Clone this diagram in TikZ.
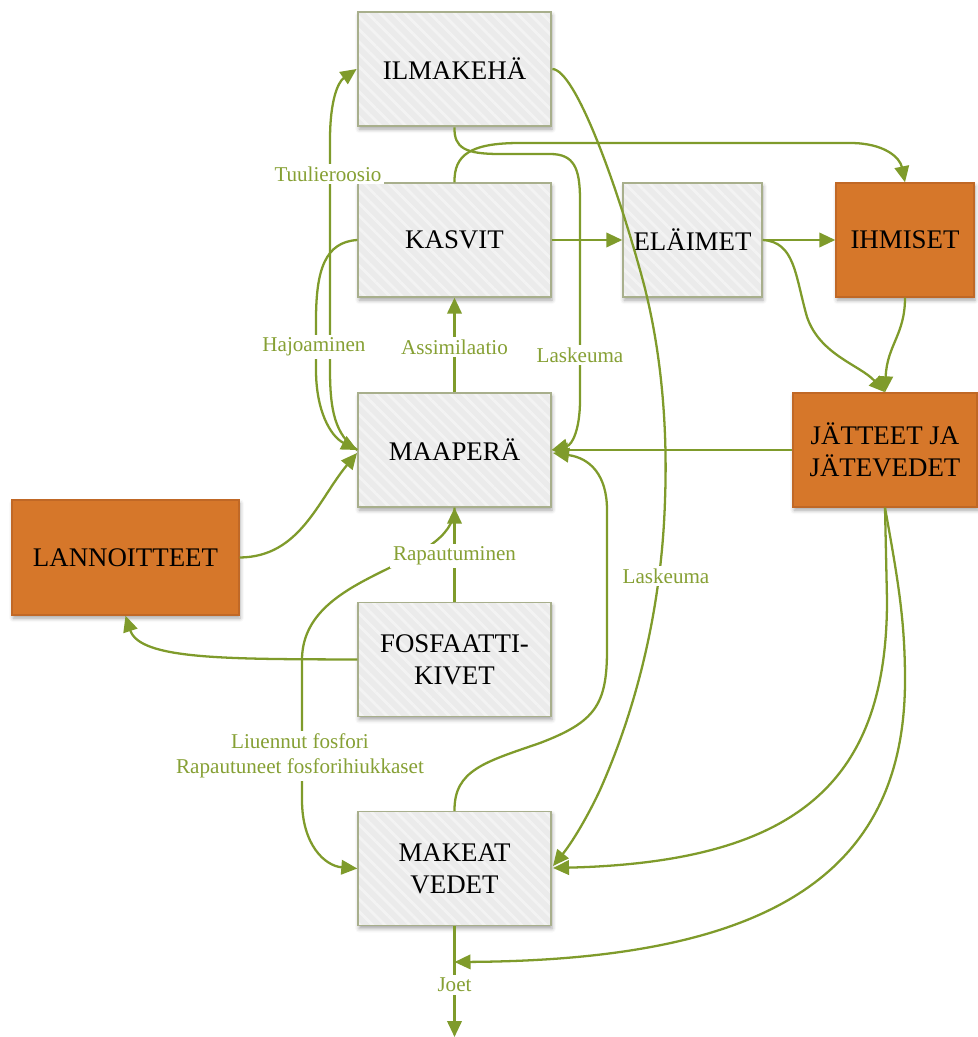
\documentclass[tikz,border=0pt]{standalone}
\usepackage{fontspec}
\setmainfont{Liberation Serif}
\usetikzlibrary{arrows.meta,shadows.blur,patterns.meta}

\definecolor{flowgreen}{HTML}{7F9B2B}
\definecolor{labgreen}{HTML}{86A034}
\definecolor{boxfill}{HTML}{EBEBEB}
\definecolor{boxstripe}{HTML}{F3F3F3}
\definecolor{boxline}{HTML}{A8AF8C}
\definecolor{orangefill}{HTML}{D6772A}
\definecolor{orangeline}{HTML}{C06826}

\tikzset{
  basebox/.style={rectangle, inner sep=0pt, align=center,
    font=\fontsize{15.3}{18.2}\selectfont, line width=0.8pt,
    blur shadow={shadow xshift=0.6pt, shadow yshift=-1.8pt,
      shadow blur radius=2.2pt, shadow opacity=35}},
  % grey compartments: plain fill first, faint stripes on top, border last
  gbox/.style={basebox, draw=boxline, preaction={fill=boxfill},
    pattern={Lines[angle=-45,distance=5pt,line width=1.6pt]},
    pattern color=boxstripe},
  obox/.style={basebox, draw=orangeline, fill=orangefill},
  flow/.style={draw=flowgreen, line width=1.3pt,
    -{Triangle[length=0.32cm,width=0.29cm]}},
  lab/.style={fill=white, inner sep=1.5pt, text=labgreen, align=center,
    font=\fontsize{12}{14.2}\selectfont}
}

\begin{document}
\begin{tikzpicture}[x=0.02cm, y=-0.02cm]
\useasboundingbox (0,0) rectangle (977,1037);

% compartments
\node[gbox, minimum width=3.86cm, minimum height=2.28cm] (ilma)    at (454.5,69)    {ILMAKEHÄ};
\node[gbox, minimum width=3.86cm, minimum height=2.28cm] (kasvit)  at (454.5,240)   {KASVIT};
\node[gbox, minimum width=2.78cm, minimum height=2.28cm] (elaimet) at (692.5,240)   {ELÄIMET};
\node[obox, minimum width=2.76cm, minimum height=2.28cm] (ihmiset) at (905,240)     {IHMISET};
\node[gbox, minimum width=3.86cm, minimum height=2.28cm] (maapera) at (454.5,450)   {MAAPERÄ};
\node[obox, minimum width=3.68cm, minimum height=2.28cm] (jatteet) at (885,450)     {JÄTTEET JA\\JÄTEVEDET};
\node[obox, minimum width=4.54cm, minimum height=2.30cm] (lannoit) at (125.5,557.5) {LANNOITTEET};
\node[gbox, minimum width=3.86cm, minimum height=2.28cm] (fosf)    at (454.5,659.5) {FOSFAATTI-\\KIVET};
\node[gbox, minimum width=3.86cm, minimum height=2.28cm] (makeat)  at (454.5,868.5) {MAKEAT\\VEDET};

\coordinate (joet) at (454.5,962);
\coordinate (outlet) at (454.5,1037);

% flows
\draw[flow] (kasvit.east) -- (elaimet.west);
\draw[flow] (elaimet.east) -- (ihmiset.west);
\draw[flow] (maapera.north) -- (kasvit.south);
\draw[flow] (fosf.north) -- (maapera.south);
\draw[flow] (jatteet.west) -- (maapera.east);
\draw[flow] (makeat.south) -- (outlet);

% wind erosion and decomposition
\draw[flow] (maapera.west) .. controls (335,435) and (330,410) .. (330,370)
  -- (330,140) .. controls (330,100) and (338,82) .. (ilma.west);
\draw[flow] (kasvit.west) .. controls (325,242) and (316,270) .. (316,320)
  -- (316,370) .. controls (316,410) and (330,436) .. (maapera.west);

% fertilisers
\draw[flow] (lannoit.east) .. controls (300,557) and (318,500) .. (357,453);
\draw[flow] (fosf.west) .. controls (230,659) and (140,660) .. (lannoit.south);

% plants to people
\draw[flow] (kasvit.north) .. controls (454,155) and (470,143) .. (520,143)
  -- (850,143) .. controls (885,143) and (900,158) .. (ihmiset.north);

% deposition from the atmosphere to the soil
\draw[flow] (ilma.south) .. controls (454,148) and (465,154) .. (500,154)
  -- (550,154) .. controls (574,154) and (580,168) .. (580,200)
  -- (580,400) .. controls (580,430) and (572,445) .. (maapera.east);

% deposition from the atmosphere to fresh waters
\draw[flow] (ilma.east) .. controls (575,70) and (615,180) .. (640,270)
  .. controls (660,340) and (668,420) .. (665,500)
  .. controls (662,600) and (640,700) .. (600,790)
  .. controls (585,822) and (570,845) .. (553,866);

% fresh waters back to the soil
\draw[flow] (makeat.north) .. controls (454,770) and (485,762) .. (540,743)
  .. controls (595,722) and (607,705) .. (607,650)
  -- (607,510) .. controls (607,475) and (590,458) .. (553,453);

% dissolved phosphorus
\draw[flow] (maapera.south) .. controls (454,570) and (302,570) .. (302,660)
  -- (302,800) .. controls (302,845) and (325,866) .. (makeat.west);

% animals and people to waste
\draw[flow] (elaimet.east) .. controls (795,242) and (795,275) .. (807,317)
  .. controls (820,355) and (860,365) .. (jatteet.north);
\draw[flow] (ihmiset.south) .. controls (905,335) and (887,345) .. (jatteet.north);

% waste waters
\draw[flow] (jatteet.south) -- (887,600) .. controls (887,780) and (800,862) .. (553,868);
\draw[flow] (jatteet.south) .. controls (898,580) and (905,620) .. (905,680)
  .. controls (905,880) and (760,960) .. (joet);

% labels
\node[lab] (l1) at (328,174) {Tuulieroosio};
\node[lab] (l2) at (314,347) {Hajoaminen};
\node[lab] (l3) at (454.5,347) {Assimilaatio};
\node[lab] (l4) at (580,355) {Laskeuma};
\node[lab] (l5) at (454.5,556) {Rapautuminen};
\node[lab] (l6) at (666,576) {Laskeuma};
\node[lab] (l7) at (300,756) {Liuennut fosfori\\Rapautuneet fosforihiukkaset};
\node[lab] (l8) at (454.5,985) {Joet};
\end{tikzpicture}
\end{document}
